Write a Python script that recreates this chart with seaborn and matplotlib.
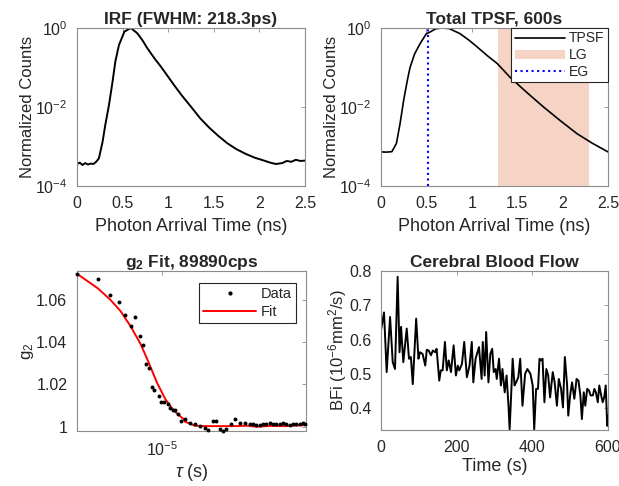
import numpy as np
import pandas as pd
import matplotlib
matplotlib.use("Agg")
import matplotlib.pyplot as plt
from matplotlib.patches import Patch
from matplotlib.lines import Line2D
import seaborn as sns

# IRF (ns, normalized counts)
irf_t = [0, 0.03, 0.06, 0.09, 0.12, 0.15, 0.18, 0.21, 0.24, 0.28, 0.31, 0.35, 0.39, 0.42,
         0.46, 0.52, 0.59, 0.66, 0.72, 0.77, 0.85, 0.92, 1.0, 1.06, 1.15, 1.26, 1.35, 1.45,
         1.55, 1.65, 1.75, 1.85, 1.95, 2.05, 2.12, 2.18, 2.25, 2.3, 2.35, 2.4, 2.45, 2.5]
irf_c = [3.6e-4, 3.9e-4, 3.4e-4, 3.8e-4, 3.5e-4, 3.7e-4, 3.6e-4, 4.1e-4, 5.0e-4, 1.3e-3,
         3.5e-3, 1.1e-2, 4.4e-2, 0.14, 0.37, 0.81, 1.0, 0.74, 0.48, 0.31, 0.17, 0.105,
         0.058, 0.037, 0.0195, 9.5e-3, 5.2e-3, 3.0e-3, 1.85e-3, 1.2e-3, 8.5e-4, 6.5e-4,
         5.2e-4, 4.4e-4, 3.9e-4, 3.6e-4, 3.8e-4, 4.3e-4, 4.1e-4, 4.6e-4, 4.3e-4, 4.4e-4]

# total TPSF
tpsf_t = [0, 0.06, 0.12, 0.17, 0.21, 0.25, 0.29, 0.32, 0.37, 0.43, 0.5, 0.54, 0.6, 0.67,
          0.75, 0.87, 0.97, 1.06, 1.17, 1.28, 1.42, 1.6, 1.79, 1.97, 2.16, 2.33, 2.5]
tpsf_c = [7.3e-4, 7.2e-4, 7.4e-4, 1.2e-3, 3.8e-3, 0.015, 0.047, 0.10, 0.22, 0.40, 0.72,
          0.79, 0.95, 1.0, 0.97, 0.72, 0.49, 0.33, 0.2, 0.126, 0.057, 0.024, 0.01, 4.6e-3,
          2.1e-3, 1.2e-3, 7.3e-4]
lg_gate = [1.29, 2.29]
eg_gate = 0.52

# g2 data (tau in microseconds)
g2_tau_us = [2.80, 3.82, 4.58, 5.24, 5.78, 6.24, 6.71, 7.13, 7.53, 7.91, 8.22, 8.57, 8.83,
             9.57, 9.86, 10.35, 10.86, 11.32, 11.78, 12.16, 12.68, 13.34, 14.0, 15.1, 16.3,
             17.5, 18.9, 19.9, 21.4, 22.5, 23.7, 24.8, 26.1, 28.2, 29.6, 31.8, 34.4, 37.0,
             38.9, 40.9, 43.0, 45.2, 47.5, 49.9, 52.5, 55.2, 58.0, 61.0, 64.0, 67.3, 70.8,
             74.5, 78.2, 82.2, 84.5]
g2_val = [1.0724, 1.0697, 1.0623, 1.059, 1.0527, 1.0475, 1.052, 1.043, 1.0385, 1.0299,
          1.028, 1.0186, 1.0176, 1.0145, 1.0115, 1.0115, 1.0107, 1.0091, 1.0078, 1.0078,
          1.006, 1.0025, 1.0036, 1.002, 1.0013, 1.0005, 0.9993, 0.9986, 1.0028, 1.0028,
          0.9989, 0.9981, 0.9989, 1.0013, 1.0036, 1.002, 1.0016, 1.0012, 1.0012, 1.0009,
          1.001, 1.0012, 1.0014, 1.0016, 1.0013, 1.0012, 1.0014, 1.0016, 1.0011, 1.0009,
          1.0013, 1.0012, 1.0014, 1.0016, 1.0015]
fit_tau_us = [2.80, 3.82, 4.58, 5.36, 6.22, 7.23, 8.18, 9.25, 10.5, 11.9, 13.8, 14.0, 16.3,
              18.9, 29.6, 36.0, 40.9, 50.0, 63.0, 75.0, 86.0]
fit_val = [1.0724, 1.0655, 1.0603, 1.0548, 1.0477, 1.0393, 1.0304, 1.0209, 1.013, 1.0076,
           1.0036, 1.0025, 1.0005, 1.0003, 1.0003, 1.0005, 1.0, 1.0004, 1.0003, 1.0006, 1.0008]

# blood flow index time series
bfi_t = [0, 8, 15, 24, 31, 37, 44, 49, 53, 59, 68, 74, 79, 84, 93, 99, 103, 110, 117, 121,
         126, 132, 137, 143, 147, 154, 158, 163, 169, 174, 179, 185, 192, 198, 203, 207,
         214, 220, 227, 234, 240, 244, 250, 255, 259, 266, 269, 274, 278, 284, 289, 294,
         298, 303, 306, 312, 317, 321, 327, 332, 337, 340, 344, 348, 353, 357, 363, 368,
         374, 381, 387, 395, 401, 405, 410, 415, 419, 423, 427, 432, 437, 442, 447, 454,
         459, 465, 470, 476, 481, 486, 492, 495, 500, 505, 511, 517, 522, 527, 531, 536,
         540, 545, 550, 554, 560, 564, 568, 573, 577, 582, 586, 590, 594, 598, 600]
bfi = [0.627, 0.679, 0.505, 0.666, 0.534, 0.514, 0.783, 0.563, 0.637, 0.534, 0.632, 0.544,
       0.549, 0.47, 0.661, 0.544, 0.563, 0.558, 0.524, 0.57, 0.568, 0.554, 0.568, 0.563,
       0.573, 0.48, 0.51, 0.51, 0.593, 0.51, 0.539, 0.505, 0.583, 0.495, 0.524, 0.51, 0.529,
       0.593, 0.49, 0.524, 0.593, 0.475, 0.544, 0.563, 0.578, 0.485, 0.593, 0.495, 0.622,
       0.475, 0.558, 0.573, 0.505, 0.514, 0.485, 0.544, 0.466, 0.514, 0.446, 0.495, 0.407,
       0.338, 0.437, 0.544, 0.466, 0.475, 0.49, 0.544, 0.407, 0.5, 0.514, 0.5, 0.466, 0.338,
       0.456, 0.456, 0.544, 0.539, 0.544, 0.417, 0.514, 0.495, 0.431, 0.505, 0.475, 0.407,
       0.485, 0.456, 0.402, 0.549, 0.466, 0.378, 0.437, 0.475, 0.427, 0.485, 0.48, 0.437,
       0.368, 0.446, 0.407, 0.456, 0.451, 0.437, 0.437, 0.456, 0.446, 0.417, 0.466, 0.437,
       0.417, 0.431, 0.466, 0.348, 0.378]

sns.set_theme(style="white")
plt.rcParams['font.family'] = ['Liberation Sans', 'DejaVu Sans']
plt.rcParams['mathtext.fontset'] = 'custom'
plt.rcParams['mathtext.rm'] = 'Liberation Sans'
plt.rcParams['mathtext.it'] = 'Liberation Sans:italic'
plt.rcParams['mathtext.bf'] = 'Liberation Sans:bold'

grey = '#262626'
title_fs = 12.5
xlabel_fs = 13
ylabel_fs = 12
tick_fs = 11.5

fig = plt.figure(figsize=(6.19, 4.86), dpi=100)
ax1 = fig.add_axes([0.1244, 0.6173, 0.3683, 0.3251])
ax2 = fig.add_axes([0.6155, 0.6173, 0.3667, 0.3251])
ax3 = fig.add_axes([0.1244, 0.1132, 0.3700, 0.3292])
ax4 = fig.add_axes([0.6155, 0.1152, 0.3667, 0.3272])


def style(ax):
    for s in ax.spines.values():
        s.set_color('#8c8c8c')
        s.set_linewidth(0.8)
    ax.tick_params(direction='in', top=True, right=True, length=3, width=0.6,
                   color='#8c8c8c', labelsize=tick_fs, labelcolor=grey, pad=7)
    ax.tick_params(which='minor', length=0)


def labels(ax, title, xlab, ylab, xpad=5):
    ax.set_title(title, fontsize=title_fs, fontweight='bold', pad=3)
    ax.set_xlabel(xlab, fontsize=xlabel_fs, color=grey, labelpad=xpad)
    ax.set_ylabel(ylab, fontsize=ylabel_fs, color=grey, labelpad=0)


# IRF
sns.lineplot(x=irf_t, y=irf_c, ax=ax1, color='black', linewidth=1.4, estimator=None)
ax1.set_yscale('log')
ax1.set_xlim(0, 2.5)
ax1.set_ylim(1e-4, 1)
ax1.set_yticks([1e-4, 1e-2, 1])
ax1.set_xticks([0, 0.5, 1, 1.5, 2, 2.5])
ax1.set_xticklabels(['0', '0.5', '1', '1.5', '2', '2.5'])
labels(ax1, 'IRF (FWHM: 218.3ps)', 'Photon Arrival Time (ns)', 'Normalized Counts')
style(ax1)

# TPSF
ax2.axvspan(lg_gate[0], lg_gate[1], color='#D95319', alpha=0.25, lw=0)
sns.lineplot(x=tpsf_t, y=tpsf_c, ax=ax2, color='black', linewidth=1.2, estimator=None)
ax2.axvline(eg_gate, color='#0000ff', linestyle=':', linewidth=1.5)
ax2.set_yscale('log')
ax2.set_xlim(0, 2.5)
ax2.set_ylim(1e-4, 1)
ax2.set_yticks([1e-4, 1e-2, 1])
ax2.set_xticks([0, 0.5, 1, 1.5, 2, 2.5])
ax2.set_xticklabels(['0', '0.5', '1', '1.5', '2', '2.5'])
labels(ax2, 'Total TPSF, 600s', 'Photon Arrival Time (ns)', 'Normalized Counts')
style(ax2)
handles = [Line2D([], [], color='black', lw=1.2),
           Patch(facecolor='#D95319', alpha=0.25, lw=0),
           Line2D([], [], color='#0000ff', ls=':', lw=1.5)]
leg = ax2.legend(handles, ['TPSF', 'LG', 'EG'], loc='upper right', bbox_to_anchor=(1, 1),
                 borderaxespad=0, fancybox=False, framealpha=1, fontsize=10,
                 handlelength=3.6, handletextpad=0.3, borderpad=0.25, labelspacing=0.2)
leg.get_frame().set_edgecolor('#262626')
leg.get_frame().set_linewidth(0.8)

# g2 fit
g2_df = pd.DataFrame({'tau': np.array(g2_tau_us) * 1e-6, 'g2': g2_val})
fit_df = pd.DataFrame({'tau': np.array(fit_tau_us) * 1e-6, 'g2': fit_val})
sns.lineplot(data=fit_df, x='tau', y='g2', ax=ax3, color='#ff0000', linewidth=1.4,
             estimator=None, zorder=2)
sns.scatterplot(data=g2_df, x='tau', y='g2', ax=ax3, color='black', s=8, linewidth=0,
                zorder=3, clip_on=False)
ax3.set_xscale('log')
ax3.set_xlim(2.8e-6, 8.6e-5)
ax3.set_ylim(0.998, 1.0737)
ax3.set_yticks([1, 1.02, 1.04, 1.06])
ax3.set_yticklabels(['1', '1.02', '1.04', '1.06'])
ax3.set_xticks([1e-5])
labels(ax3, 'g$_\\mathbf{2}$ Fit, 89890cps', '$\\mathit{\\tau}$ (s)', 'g$_2$', xpad=2)
style(ax3)
h3 = [Line2D([], [], color='black', marker='.', ls='none', markersize=4),
      Line2D([], [], color='#ff0000', lw=1.4)]
leg3 = ax3.legend(h3, ['Data', 'Fit'], loc='upper right', bbox_to_anchor=(0.955, 0.925),
                  borderaxespad=0, fancybox=False, framealpha=1, fontsize=10.5,
                  handlelength=3.6, handletextpad=0.3, borderpad=0.3, labelspacing=0.25)
leg3.get_frame().set_edgecolor('#262626')
leg3.get_frame().set_linewidth(0.8)

# cerebral blood flow
sns.lineplot(x=bfi_t, y=bfi, ax=ax4, color='black', linewidth=1.4, estimator=None)
ax4.set_xlim(0, 600)
ax4.set_ylim(0.336, 0.8)
ax4.set_yticks([0.4, 0.5, 0.6, 0.7, 0.8])
ax4.set_xticks([0, 200, 400, 600])
labels(ax4, 'Cerebral Blood Flow', 'Time (s)', 'BFi (10$^{-6}$mm$^2$/s)', xpad=2.5)
style(ax4)

fig.savefig('out.png', dpi=100)
